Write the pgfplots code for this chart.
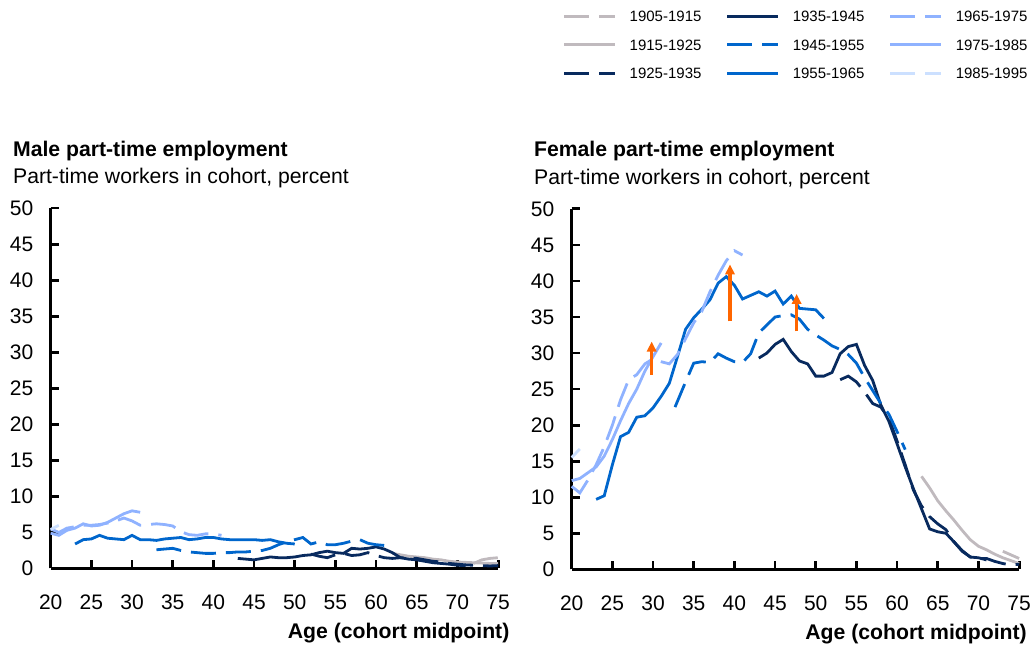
\documentclass[border=0pt]{standalone}
\usepackage{fontspec}
\setmainfont{Liberation Sans}
\usepackage{pgfplots}
\pgfplotsset{compat=1.18}
\usetikzlibrary{arrows.meta}

\definecolor{cgray}{RGB}{192,186,190}
\definecolor{cnavy}{RGB}{8,42,94}
\definecolor{cmid}{RGB}{0,102,204}
\definecolor{clight}{RGB}{143,178,255}
\definecolor{cvlight}{RGB}{204,224,255}
\definecolor{corange}{RGB}{255,102,0}

\tikzset{
  ttl/.style={anchor=base west, inner sep=0pt, font=\bfseries\fontsize{10.6}{12}\selectfont},
  sub/.style={anchor=base west, inner sep=0pt, font=\fontsize{10.6}{12}\selectfont},
  xl/.style={anchor=base east, inner sep=0pt, font=\bfseries\fontsize{10.6}{12}\selectfont},
}
\pgfplotsset{
  dsh/.style={dash pattern=on 12.5pt off 5pt},
  sA/.style={color=cgray, line width=1.4pt, dsh},
  sB/.style={color=cgray, line width=1.4pt},
  sC/.style={color=cnavy, line width=1.4pt, dsh},
  sD/.style={color=cnavy, line width=1.4pt},
  sE/.style={color=cmid, line width=1.4pt, dsh},
  sF/.style={color=cmid, line width=1.4pt},
  sG/.style={color=clight, line width=1.4pt, dsh},
  sH/.style={color=clight, line width=1.4pt},
  sI/.style={color=cvlight, line width=1.4pt, dsh},
  panel/.style={
    scale only axis, width=223.7pt, height=180.2pt,
    xmin=20, xmax=75, ymin=0, ymax=50,
    xtick={20,25,...,75}, ytick={0,5,...,50},
    axis x line*=bottom, axis y line*=left,
    axis line style={line width=1.4pt, black, -},
    tick align=inside, major tick length=4pt,
    tick style={black, line width=1.4pt},
    tick label style={font=\fontsize{10.5}{12}\selectfont},
    /pgf/number format/assume math mode=true,
    xticklabel style={yshift=-9.75pt},
    yticklabel style={xshift=-5.2pt},
    clip=false,
  },
}

\begin{document}
\begin{tikzpicture}
\path[use as bounding box] (0,0) rectangle (516pt,323pt);

% ---------------- Male ----------------
\begin{axis}[panel, at={(25.35pt,38.75pt)}, anchor=south west]
\addplot[sA] coordinates {(72,0.7) (73,1.2) (74,1.4) (75,1.5)};
\addplot[sB] coordinates {(62,2.1) (63,1.9) (64,1.7) (65,1.6) (66,1.5) (67,1.3) (68,1.2) (69,1.0) (70,0.9) (71,0.85) (72,0.8) (73,0.75) (74,0.7) (75,0.7)};
\addplot[sC] coordinates {(52,2.0) (53,1.7) (54,1.5) (55,1.9) (56,2.1) (57,1.8) (58,1.9) (59,2.2) (60,1.8) (61,1.5) (62,1.4) (63,1.5) (64,1.5) (65,1.4) (66,1.2) (67,1.0) (68,0.9) (69,0.7) (70,0.6) (71,0.5) (72,0.45) (73,0.4) (74,0.35) (75,0.4)};
\addplot[sD] coordinates {(43,1.4) (44,1.3) (45,1.2) (46,1.4) (47,1.6) (48,1.5) (49,1.5) (50,1.6) (51,1.8) (52,1.9) (53,2.2) (54,2.4) (55,2.2) (56,2.1) (57,2.8) (58,2.7) (59,2.8) (60,3.0) (61,2.7) (62,2.2) (63,1.5) (64,1.3) (65,1.2) (66,1.0) (67,0.8) (68,0.7) (69,0.6) (70,0.45) (71,0.4)};
\addplot[sE] coordinates {(33,2.6) (34,2.7) (35,2.8) (36,2.5) (37,2.3) (38,2.2) (39,2.1) (40,2.1) (41,2.2) (42,2.2) (43,2.3) (44,2.3) (45,2.4) (46,2.5) (47,2.8) (48,3.3) (49,3.7) (50,4.0) (51,4.3) (52,3.4) (53,3.7) (54,3.3) (55,3.3) (56,3.5) (57,3.8) (58,4.0) (59,3.5) (60,3.3) (61,3.2)};
\addplot[sF] coordinates {(23,3.4) (24,4.0) (25,4.1) (26,4.6) (27,4.2) (28,4.1) (29,4.0) (30,4.6) (31,4.0) (32,4.0) (33,3.9) (34,4.1) (35,4.2) (36,4.3) (37,4.0) (38,4.1) (39,4.3) (40,4.3) (41,4.1) (42,4.0) (43,4.0) (44,4.0) (45,4.0) (46,3.9) (47,4.0) (48,3.7) (49,3.5) (50,3.4)};
\addplot[sG] coordinates {(20,5.5) (21,5.0) (22,5.6) (23,5.8) (24,6.0) (25,6.0) (26,6.1) (27,6.3) (28,6.6) (29,7.0) (30,6.6) (31,6.0) (32,6.1) (33,6.2) (34,6.1) (35,5.9) (36,5.1) (37,4.7) (38,4.6) (39,4.8) (40,4.8) (41,4.6)};
\addplot[sH] coordinates {(20,4.9) (21,4.6) (22,5.3) (23,5.6) (24,6.2) (25,5.9) (26,6.0) (27,6.4) (28,7.0) (29,7.6) (30,8.0) (31,7.8)};
\addplot[sI] coordinates {(20,5.4) (21,6.0)};
\node[ttl] at (axis description cs:-0.0849,1.1442) {Male part-time employment};
\node[sub] at (axis description cs:-0.0849,1.0685) {Part-time workers in cohort, percent};
\node[xl] at (axis description cs:1.026,-0.194) {Age (cohort midpoint)};
\end{axis}

% ---------------- Female ----------------
\begin{axis}[panel, at={(285.85pt,38.35pt)}, anchor=south west,
  legend columns=3,
  legend cell align=left,
  legend image code/.code={\draw[#1, line width=1.5pt] (0pt,0pt) -- (25.3pt,0pt);},
  legend style={at={(-0.0201,1.5749)}, anchor=north west, draw=none, fill=none,
    inner sep=0pt, outer sep=0pt, font=\fontsize{7.5}{9}\selectfont,
    column sep=0pt, row sep=0pt,
    nodes={inner sep=0pt, text height=5.4pt, text depth=0pt, minimum height=14.35pt},
    /tikz/every odd column/.append style={column sep=6.7pt},
    /tikz/every even column/.append style={column sep=12.15pt}},
]
\addlegendimage{sA}\addlegendentry{1905-1915}
\addlegendimage{sD}\addlegendentry{1935-1945}
\addlegendimage{sG}\addlegendentry{1965-1975}
\addlegendimage{sB}\addlegendentry{1915-1925}
\addlegendimage{sE}\addlegendentry{1945-1955}
\addlegendimage{sH}\addlegendentry{1975-1985}
\addlegendimage{sC}\addlegendentry{1925-1935}
\addlegendimage{sF}\addlegendentry{1955-1965}
\addlegendimage{sI}\addlegendentry{1985-1995}

\addplot[sA, forget plot] coordinates {(73,2.5) (74,2.0) (75,1.5)};
\addplot[sB, forget plot] coordinates {(63,12.9) (64,11.3) (65,9.5) (66,8.1) (67,6.8) (68,5.4) (69,4.1) (70,3.2) (71,2.7) (72,2.1) (73,1.6) (74,1.2) (75,0.8)};
\addplot[sC, forget plot] coordinates {(53,26.3) (54,26.8) (55,26.0) (56,24.6) (57,23.0) (58,22.5) (59,20.9) (60,17.8) (61,14.5) (62,11.0) (63,8.8) (64,7.3) (65,6.3) (66,5.5) (67,3.8) (68,2.5) (69,1.7) (70,1.5) (71,1.5) (72,1.1) (73,0.8) (74,0.6) (75,0.7)};
\addplot[sD, forget plot] coordinates {(43,29.3) (44,30.0) (45,31.2) (46,31.9) (47,30.2) (48,28.9) (49,28.5) (50,26.8) (51,26.8) (52,27.3) (53,29.9) (54,30.9) (55,31.2) (56,28.3) (57,26.2) (58,22.8) (59,20.5) (60,17.4) (61,14.2) (62,11.2) (63,8.4) (64,5.6) (65,5.2) (66,5.0) (67,3.8) (68,2.6) (69,1.7) (70,1.6) (71,1.3)};
\addplot[sE, forget plot] coordinates {(32.7,22.5) (34,26.0) (35,28.6) (36,28.8) (37,28.7) (38,29.9) (39,29.3) (40,28.8) (41,28.7) (42,29.9) (43,32.8) (44,33.9) (45,35.0) (46,35.2) (47,35.3) (48,34.7) (49,33.3) (50,32.5) (51,31.8) (52,31.0) (53,30.5) (54,29.8) (55,28.6) (56,26.6) (57,24.8) (58,23.0) (59,21.5) (60,19.1) (61,16.6)};
\addplot[sF, forget plot] coordinates {(23,9.7) (24,10.2) (25,14.5) (26,18.4) (27,19.0) (28,21.1) (29,21.3) (30,22.4) (31,24.0) (32,25.8) (33,29.5) (34,33.3) (35,34.9) (36,36.1) (37,37.4) (38,39.7) (39,40.6) (40,39.4) (41,37.5) (42,38.0) (43,38.5) (44,37.9) (45,38.6) (46,36.8) (47,37.9) (48,36.2) (49,36.1) (50,36.0) (51,34.8)};
\addplot[sG, forget plot] coordinates {(20,11.5) (21,10.6) (22,12.4) (23,14.5) (24,17.0) (25,20.0) (26,23.5) (27,26.3) (28,27.0) (29,28.5) (30,29.2) (31,28.8) (32,28.5) (33,29.8) (34,32.0) (35,34.2) (36,35.8) (37,38.5) (38,40.8) (39,42.8) (40,44.2) (41,43.6)};
\addplot[sH, forget plot] coordinates {(20,12.3) (21,12.6) (22,13.4) (23,14.2) (24,15.7) (25,18.0) (26,20.6) (27,23.0) (28,25.0) (29,27.5) (30,29.5) (31,31.4)};
\addplot[sI, forget plot] coordinates {(20,15.5) (21,16.7)};

\addplot[corange, line width=1.6pt, -{Triangle[width=4.6pt,length=5pt]}, forget plot] coordinates {(29.83,27.0) (29.83,31.6)};
\addplot[corange, line width=1.6pt, -{Triangle[width=4.6pt,length=5pt]}, forget plot] coordinates {(39.46,34.4) (39.46,42.3)};
\addplot[corange, line width=1.6pt, -{Triangle[width=4.6pt,length=5pt]}, forget plot] coordinates {(47.65,33.0) (47.65,38.2)};

\node[ttl] at (axis description cs:-0.0849,1.1442) {Female part-time employment};
\node[sub] at (axis description cs:-0.0849,1.0685) {Part-time workers in cohort, percent};
\node[xl] at (axis description cs:1.018,-0.194) {Age (cohort midpoint)};
\end{axis}
\end{tikzpicture}
\end{document}
